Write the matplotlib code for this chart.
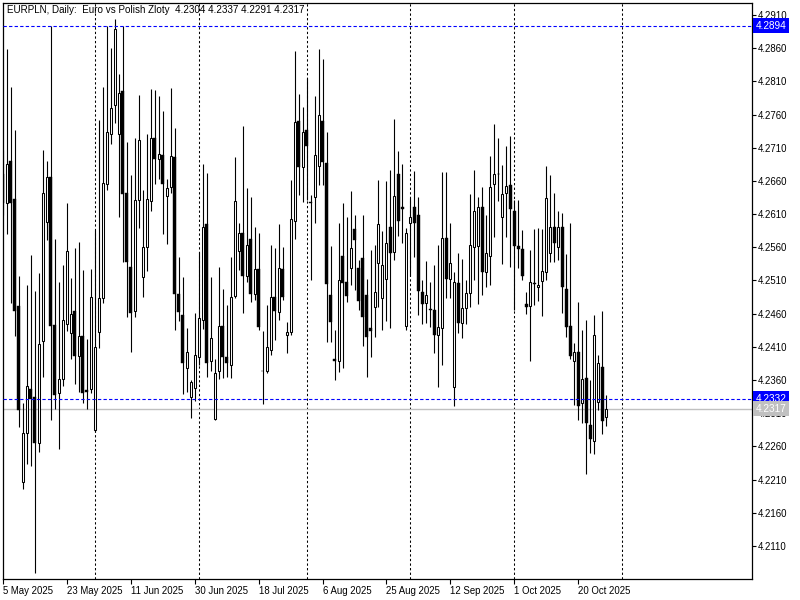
import numpy as np
import pandas as pd
import matplotlib
matplotlib.use('Agg')
import matplotlib.pyplot as plt
import matplotlib.transforms as mtransforms

# EURPLN daily bars, 5 May 2025 .. 28 Oct 2025 (feed has Sunday bars, no Saturday)
start_date = '2025-05-05'

opens = [4.2671, 4.2626, 4.2690, 4.2633, 4.2472, 4.2207, 4.2281, 4.2347, 4.2335, 4.2265,
         4.2419, 4.2598, 4.2666, 4.2443, 4.2341, 4.2362, 4.2445, 4.2431, 4.2464, 4.2397,
         4.2427, 4.2345, 4.2347, 4.2285, 4.2433, 4.2484, 4.2656, 4.2731, 4.2775, 4.2730,
         4.2796, 4.2642, 4.2530, 4.2464, 4.2632, 4.2515, 4.2561, 4.2630, 4.2724, 4.2693,
         4.2699, 4.2638, 4.2651, 4.2696, 4.2490, 4.2458, 4.2378, 4.2335, 4.2348, 4.2395,
         4.2451, 4.2595, 4.2388, 4.2302, 4.2374, 4.2442, 4.2394, 4.2383, 4.2487, 4.2555,
         4.2582, 4.2517, 4.2573, 4.2490, 4.2527, 4.2374, 4.2374, 4.2406, 4.2485, 4.2463,
         4.2527, 4.2428, 4.2433, 4.2600, 4.2751, 4.2681, 4.2736, 4.2629, 4.2636, 4.2683,
         4.2751, 4.2687, 4.2488, 4.2392, 4.2388, 4.2547, 4.2508, 4.2529, 4.2588, 4.2529,
         4.2544, 4.2488, 4.2439, 4.2470, 4.2536, 4.2484, 4.2512, 4.2591, 4.2553, 4.2671,
         4.2621, 4.2442, 4.2597, 4.2620, 4.2608, 4.2493, 4.2476, 4.2467, 4.2466, 4.2428,
         4.2439, 4.2574, 4.2512, 4.2350, 4.2506, 4.2446, 4.2469, 4.2491, 4.2561, 4.2562,
         4.2620, 4.2523, 4.2547, 4.2656, 4.2671, 4.2605, 4.2642, 4.2654, 4.2615, 4.2562,
         4.2558, 4.2475, 4.2472, 4.2506, 4.2500, 4.2509, 4.2523, 4.2552, 4.2591, 4.2561,
         4.2591, 4.2497, 4.2442, 4.2389, 4.2403, 4.2326, 4.2363, 4.2293, 4.2268, 4.2327,
         4.2380, 4.2304]

highs = [4.2707, 4.2858, 4.2802, 4.2737, 4.2517, 4.2326, 4.2503, 4.2548, 4.2494, 4.2521,
         4.2707, 4.2690, 4.2894, 4.2573, 4.2508, 4.2533, 4.2627, 4.2514, 4.2559, 4.2568,
         4.2526, 4.2422, 4.2527, 4.2586, 4.2752, 4.2802, 4.2894, 4.2861, 4.2904, 4.2821,
         4.2894, 4.2718, 4.2669, 4.2724, 4.2790, 4.2647, 4.2730, 4.2799, 4.2797, 4.2788,
         4.2766, 4.2663, 4.2800, 4.2740, 4.2545, 4.2515, 4.2439, 4.2360, 4.2461, 4.2553,
         4.2686, 4.2672, 4.2515, 4.2391, 4.2530, 4.2497, 4.2473, 4.2545, 4.2696, 4.2597,
         4.2742, 4.2650, 4.2636, 4.2591, 4.2582, 4.2434, 4.2473, 4.2564, 4.2559, 4.2595,
         4.2561, 4.2448, 4.2662, 4.2855, 4.2791, 4.2772, 4.2815, 4.2639, 4.2788, 4.2858,
         4.2843, 4.2733, 4.2562, 4.2436, 4.2597, 4.2626, 4.2605, 4.2645, 4.2608, 4.2541,
         4.2608, 4.2512, 4.2556, 4.2564, 4.2662, 4.2585, 4.2660, 4.2677, 4.2754, 4.2705,
         4.2686, 4.2589, 4.2635, 4.2675, 4.2636, 4.2511, 4.2539, 4.2508, 4.2533, 4.2564,
         4.2674, 4.2674, 4.2597, 4.2523, 4.2552, 4.2542, 4.2511, 4.2641, 4.2677, 4.2636,
         4.2651, 4.2609, 4.2698, 4.2746, 4.2725, 4.2684, 4.2712, 4.2727, 4.2632, 4.2632,
         4.2586, 4.2493, 4.2556, 4.2588, 4.2589, 4.2588, 4.2683, 4.2669, 4.2642, 4.2614,
         4.2611, 4.2550, 4.2597, 4.2416, 4.2478, 4.2436, 4.2451, 4.2360, 4.2458, 4.2398,
         4.2464, 4.2337]

lows = [4.2609, 4.2580, 4.2476, 4.2427, 4.2290, 4.2196, 4.2234, 4.2231, 4.2070, 4.2252,
        4.2365, 4.2571, 4.2300, 4.2317, 4.2256, 4.2351, 4.2434, 4.2392, 4.2354, 4.2342,
        4.2326, 4.2317, 4.2341, 4.2282, 4.2409, 4.2476, 4.2647, 4.2715, 4.2748, 4.2605,
        4.2538, 4.2455, 4.2403, 4.2455, 4.2589, 4.2485, 4.2524, 4.2614, 4.2656, 4.2663,
        4.2580, 4.2565, 4.2642, 4.2436, 4.2449, 4.2339, 4.2342, 4.2303, 4.2329, 4.2383,
        4.2437, 4.2365, 4.2374, 4.2300, 4.2362, 4.2363, 4.2365, 4.2363, 4.2484, 4.2526,
        4.2461, 4.2508, 4.2478, 4.2481, 4.2436, 4.2324, 4.2371, 4.2398, 4.2421, 4.2451,
        4.2481, 4.2401, 4.2428, 4.2573, 4.2639, 4.2629, 4.2632, 4.2511, 4.2597, 4.2654,
        4.2654, 4.2418, 4.2418, 4.2360, 4.2372, 4.2378, 4.2478, 4.2503, 4.2496, 4.2466,
        4.2412, 4.2365, 4.2394, 4.2425, 4.2470, 4.2436, 4.2449, 4.2439, 4.2541, 4.2577,
        4.2567, 4.2436, 4.2517, 4.2545, 4.2458, 4.2445, 4.2446, 4.2440, 4.2401, 4.2350,
        4.2383, 4.2484, 4.2484, 4.2321, 4.2431, 4.2424, 4.2445, 4.2470, 4.2511, 4.2475,
        4.2488, 4.2500, 4.2503, 4.2576, 4.2630, 4.2535, 4.2576, 4.2530, 4.2466, 4.2529,
        4.2511, 4.2460, 4.2388, 4.2473, 4.2479, 4.2457, 4.2511, 4.2538, 4.2538, 4.2541,
        4.2461, 4.2425, 4.2391, 4.2323, 4.2300, 4.2296, 4.2219, 4.2250, 4.2249, 4.2315,
        4.2279, 4.2291]

closes = [4.2626, 4.2686, 4.2626, 4.2464, 4.2315, 4.2281, 4.2351, 4.2332, 4.2265, 4.2415,
          4.2642, 4.2666, 4.2442, 4.2338, 4.2362, 4.2451, 4.2555, 4.2460, 4.2397, 4.2427,
          4.2341, 4.2342, 4.2485, 4.2410, 4.2484, 4.2657, 4.2733, 4.2770, 4.2889, 4.2793,
          4.2641, 4.2538, 4.2461, 4.2632, 4.2722, 4.2561, 4.2633, 4.2724, 4.2693, 4.2701,
          4.2656, 4.2650, 4.2698, 4.2490, 4.2463, 4.2385, 4.2403, 4.2357, 4.2398, 4.2454,
          4.2591, 4.2386, 4.2424, 4.2371, 4.2442, 4.2394, 4.2386, 4.2485, 4.2630, 4.2582,
          4.2517, 4.2564, 4.2490, 4.2527, 4.2440, 4.2373, 4.2410, 4.2485, 4.2464, 4.2529,
          4.2485, 4.2433, 4.2602, 4.2749, 4.2681, 4.2733, 4.2713, 4.2626, 4.2699, 4.2760,
          4.2689, 4.2505, 4.2448, 4.2388, 4.2511, 4.2506, 4.2487, 4.2559, 4.2571, 4.2479,
          4.2455, 4.2425, 4.2434, 4.2493, 4.2595, 4.2533, 4.2567, 4.2552, 4.2638, 4.2600,
          4.2618, 4.2582, 4.2606, 4.2597, 4.2494, 4.2475, 4.2488, 4.2466, 4.2428, 4.2440,
          4.2574, 4.2512, 4.2536, 4.2508, 4.2446, 4.2469, 4.2491, 4.2564, 4.2614, 4.2620,
          4.2523, 4.2552, 4.2651, 4.2671, 4.2670, 4.2641, 4.2653, 4.2618, 4.2562, 4.2558,
          4.2517, 4.2470, 4.2508, 4.2505, 4.2503, 4.2524, 4.2635, 4.2591, 4.2567, 4.2591,
          4.2500, 4.2440, 4.2397, 4.2403, 4.2321, 4.2362, 4.2296, 4.2271, 4.2428, 4.2385,
          4.2299, 4.2317]

level_lines = [4.2894, 4.2332]
bid_price = 4.2317
y_ticks = [4.2110, 4.2160, 4.2210, 4.2260, 4.2310, 4.2360, 4.2410, 4.2460, 4.2510,
           4.2560, 4.2610, 4.2660, 4.2710, 4.2760, 4.2810, 4.2860, 4.2910]
header = 'EURPLN, Daily:  Euro vs Polish Zloty  4.2304 4.2337 4.2291 4.2317'

FONT = 'Liberation Sans'
FS = 6.9

# bar calendar: every day except Saturday
dates = pd.date_range(start_date, periods=230, freq='D')
dates = dates[dates.weekday != 5]

o = np.array(opens)
h = np.array(highs)
l = np.array(lows)
c = np.array(closes)
xs = np.arange(len(o))
up = c > o

fig = plt.figure(figsize=(8, 6), dpi=100)
fig.patch.set_facecolor('white')
W, H = 800.0, 600.0
ax = fig.add_axes([2.7 / W, 1 - 579 / H, (752.3 - 2.7) / W, (579 - 2.7) / H])
ax.set_facecolor('white')

x_left = (2.7 - 2.3) / 4.0
x_right = (752.3 - 2.3) / 4.0
ax.set_xlim(x_left, x_right)
ax.set_ylim(4.20603, 4.29285)

# month separators (up to the first month after the last bar)
for i in range(1, len(o) + 10):
    if dates[i].month != dates[i - 1].month:
        ax.axvline(i, color='black', lw=0.75, ls=(0, (2.2, 2.2)), zorder=1)

# bid line
ax.axhline(bid_price, color='#c0c0c0', lw=1.0, zorder=1)

# candles
ax.vlines(xs, l, h, color='black', lw=0.8, zorder=2)
body_lo = np.minimum(o, c)
body_h = np.maximum(np.abs(c - o), 0.00005)
ax.bar(xs[up], body_h[up], bottom=body_lo[up], width=0.5, color='white',
       edgecolor='black', linewidth=0.75, zorder=3)
ax.bar(xs[~up], body_h[~up], bottom=body_lo[~up], width=0.72, color='black',
       edgecolor='black', linewidth=0.3, zorder=3)

# horizontal levels
for lv in level_lines:
    ax.axhline(lv, color='#0000ff', lw=0.8, ls=(0, (3, 2)), zorder=4)

for sp in ax.spines.values():
    sp.set_color('black')
    sp.set_linewidth(0.9)

# price axis
ax.yaxis.tick_right()
ax.set_yticks(y_ticks)
ax.set_yticklabels(['%.4f' % v for v in y_ticks])
ax.tick_params(axis='y', direction='out', length=3.2, width=0.8, pad=0.8,
               labelsize=FS, colors='black')
for t in ax.get_yticklabels():
    t.set_fontfamily(FONT)

# time axis
tick_idx = list(range(0, len(o), 16))
tick_lbl = ['%d %s' % (dates[i].day, dates[i].strftime('%b %Y')) for i in tick_idx]
ax.set_xticks(tick_idx)
ax.set_xticklabels(tick_lbl)
ax.tick_params(axis='x', direction='out', length=3.5, width=0.8, pad=1.2,
               labelsize=FS, colors='black')
for t in ax.get_xticklabels():
    t.set_fontfamily(FONT)
    t.set_ha('left')

# price labels on the scale
trans = mtransforms.blended_transform_factory(ax.transAxes, ax.transData)
for lv in level_lines:
    ax.text(1.004, lv, '%.4f' % lv, transform=trans, ha='left', va='center',
            fontsize=FS + 0.3, family=FONT, color='white', clip_on=False, zorder=6,
            bbox=dict(boxstyle='square,pad=0.25', fc='#0000ff', ec='none'))
ax.text(1.004, bid_price, '%.4f' % bid_price, transform=trans, ha='left', va='center',
        fontsize=FS + 0.3, family=FONT, color='white', clip_on=False, zorder=6,
        bbox=dict(boxstyle='square,pad=0.25', fc='#c0c0c0', ec='none'))

# header
fig.text(7 / W, 1 - 9.8 / H, header, ha='left', va='center', fontsize=FS + 0.2,
         family=FONT, color='black')

fig.savefig('out.png', dpi=100, facecolor='white')
